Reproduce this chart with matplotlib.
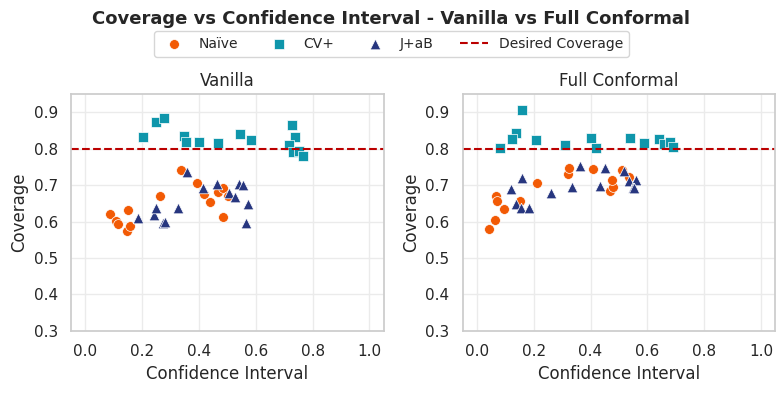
import matplotlib
matplotlib.use("Agg")
import matplotlib.pyplot as plt
import seaborn as sns

# data (confidence interval, coverage)
van_naive_x = [0.086, 0.109, 0.115, 0.150, 0.146, 0.158, 0.261, 0.335, 0.392, 0.416, 0.439, 0.466, 0.484, 0.501, 0.486]
van_naive_y = [0.620, 0.602, 0.592, 0.631, 0.574, 0.587, 0.670, 0.741, 0.707, 0.675, 0.654, 0.681, 0.692, 0.669, 0.613]
van_cv_x = [0.203, 0.247, 0.277, 0.347, 0.354, 0.400, 0.467, 0.544, 0.582, 0.726, 0.737, 0.718, 0.730, 0.751, 0.765]
van_cv_y = [0.831, 0.872, 0.884, 0.835, 0.817, 0.817, 0.815, 0.840, 0.823, 0.865, 0.833, 0.811, 0.790, 0.794, 0.780]
van_jab_x = [0.185, 0.241, 0.247, 0.273, 0.280, 0.326, 0.357, 0.414, 0.462, 0.505, 0.525, 0.540, 0.554, 0.572, 0.565]
van_jab_y = [0.611, 0.618, 0.638, 0.596, 0.600, 0.638, 0.737, 0.693, 0.704, 0.679, 0.666, 0.703, 0.700, 0.649, 0.597]

full_naive_x = [0.041, 0.062, 0.066, 0.070, 0.097, 0.150, 0.210, 0.319, 0.324, 0.407, 0.468, 0.478, 0.477, 0.511, 0.534]
full_naive_y = [0.579, 0.603, 0.670, 0.655, 0.633, 0.657, 0.705, 0.730, 0.747, 0.744, 0.684, 0.695, 0.714, 0.741, 0.721]
full_cv_x = [0.157, 0.136, 0.122, 0.080, 0.208, 0.309, 0.400, 0.418, 0.539, 0.587, 0.640, 0.660, 0.681, 0.689]
full_cv_y = [0.906, 0.843, 0.826, 0.801, 0.823, 0.810, 0.830, 0.803, 0.829, 0.816, 0.825, 0.813, 0.819, 0.804]
full_jab_x = [0.121, 0.157, 0.136, 0.156, 0.182, 0.259, 0.333, 0.362, 0.435, 0.450, 0.518, 0.534, 0.561, 0.548, 0.554]
full_jab_y = [0.689, 0.719, 0.647, 0.636, 0.636, 0.677, 0.696, 0.753, 0.697, 0.747, 0.739, 0.710, 0.714, 0.693, 0.692]

desired = 0.8

sns.set_theme(style="whitegrid")
plt.rcParams['font.family'] = ['DejaVu Sans']

c_naive = "#f25a05"
c_cv = "#0f96ab"
c_jab = "#27367f"

fig, axes = plt.subplots(1, 2, figsize=(7.83, 3.93), dpi=100)

panels = [
    ("Vanilla", van_naive_x, van_naive_y, van_cv_x, van_cv_y, van_jab_x, van_jab_y),
    ("Full Conformal", full_naive_x, full_naive_y, full_cv_x, full_cv_y, full_jab_x, full_jab_y),
]

for ax, (name, nx, ny, cx, cy, jx, jy) in zip(axes, panels):
    ax.scatter(nx, ny, s=50, marker="o", color=c_naive, edgecolor="white", linewidth=0.5, label="Naïve")
    ax.scatter(cx, cy, s=50, marker="s", color=c_cv, edgecolor="white", linewidth=0.5, label="CV+")
    ax.scatter(jx, jy, s=58, marker="^", color=c_jab, edgecolor="white", linewidth=0.5, label="J+aB")
    ax.axhline(desired, color="#bb0000", linestyle="--", linewidth=1.5, label="Desired Coverage")
    ax.set_xlim(-0.05, 1.05)
    ax.set_ylim(0.3, 0.95)
    ax.set_xticks([0.0, 0.2, 0.4, 0.6, 0.8, 1.0])
    ax.set_yticks([0.3, 0.4, 0.5, 0.6, 0.7, 0.8, 0.9])
    ax.set_title(name, fontsize=12)
    ax.set_xlabel("Confidence Interval", fontsize=12)
    ax.set_ylabel("Coverage", fontsize=12)
    ax.tick_params(labelsize=11)
    ax.grid(True, color="#ebebeb")
    for sp in ax.spines.values():
        sp.set_color("#cccccc")

handles, labels = axes[0].get_legend_handles_labels()
fig.legend(handles, labels, loc="center", bbox_to_anchor=(0.5, 0.888), ncol=4, fontsize=10,
           frameon=True, columnspacing=1.9)
fig.suptitle("Coverage vs Confidence Interval - Vanilla vs Full Conformal", fontsize=13,
             fontweight="bold", y=0.975)

fig.subplots_adjust(left=0.091, right=0.99, top=0.761, bottom=0.158, wspace=0.253)
fig.savefig("out.png", dpi=100)
